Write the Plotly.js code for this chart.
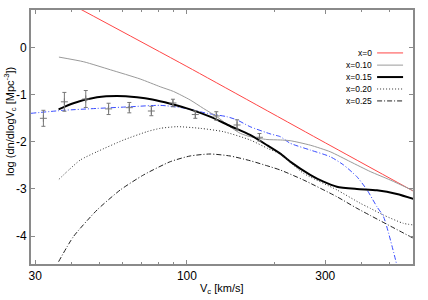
<!DOCTYPE html>
<html>
<head>
<meta charset="utf-8">
<script src="https://cdn.plot.ly/plotly-3.0.1.min.js"></script>
<style>html,body{margin:0;padding:0;background:#fff;}#chart{width:428px;height:300px;}</style>
</head>
<body>
<div id="chart"></div>
<script>
// ---- data ----
const seriesNames = ['x=0', 'x=0.10', 'x=0.15', 'x=0.20', 'x=0.25'];

const vRed = [40, 100, 300, 605];
const yRed = [0.92, -0.40, -2.02, -3.05];

const vGray = [36.2, 44.1, 54.5, 69.0, 80.9, 89.9, 102.6, 114.0, 127.1, 140.9, 152.8, 165.2, 188.8, 209.9, 227.0, 266.1, 311.9, 365.6, 428.5, 502.3, 605];
const yGray = [-0.20, -0.30, -0.47, -0.665, -0.83, -0.93, -1.11, -1.29, -1.47, -1.68, -1.82, -1.89, -1.95, -1.96, -1.975, -2.07, -2.21, -2.42, -2.63, -2.81, -3.04];

const vBlack = [36.1, 40.6, 49.0, 57.4, 67.3, 76.0, 87.7, 102.6, 120.2, 140.9, 165.2, 190.0, 209.9, 227.0, 266.1, 295.8, 328.9, 385.5, 451.9, 529.7, 605];
const yBlack = [-1.31, -1.18, -1.054, -1.026, -1.054, -1.10, -1.19, -1.31, -1.466, -1.663, -1.854, -2.08, -2.25, -2.42, -2.70, -2.846, -2.952, -3.0, -3.03, -3.107, -3.214];

const vDot = [36.2, 39.1, 42.9, 49.0, 60.5, 72.8, 80.9, 92.5, 111.2, 133.7, 165.2, 190.0, 209.9, 252.4, 328.9, 396.3, 428.5, 476.4, 557.2, 605];
const yDot = [-2.795, -2.6, -2.385, -2.209, -1.96, -1.784, -1.713, -1.678, -1.713, -1.784, -1.96, -2.14, -2.26, -2.668, -3.02, -3.305, -3.41, -3.555, -3.73, -3.765];

const vDash = [36.1, 40.6, 49.0, 58.9, 70.8, 87.7, 102.6, 120.2, 140.9, 165.2, 193.6, 209.9, 252.4, 328.9, 385.5, 605];
const yDash = [-4.545, -4.014, -3.447, -3.022, -2.704, -2.42, -2.30, -2.258, -2.30, -2.40, -2.528, -2.598, -2.81, -3.165, -3.41, -4.05];

const vBlue = [29.0, 37.6, 49.0, 63.8, 80.9, 97.3, 117.2, 137.4, 148.9, 165.2, 193.6, 209.9, 227.0, 266.1, 311.9, 346.7, 385.5, 417.8, 451.9, 476.4, 529.7];
const yBlue = [-1.394, -1.33, -1.29, -1.255, -1.225, -1.28, -1.393, -1.466, -1.535, -1.678, -1.83, -1.89, -2.03, -2.173, -2.315, -2.49, -2.74, -3.02, -3.377, -3.59, -4.62];

const vObs = [32.0, 37.8, 44.8, 53.7, 63.3, 75.4, 89.5, 106.9, 126.3, 148.9, 177.9];
const yObs = [-1.50, -1.15, -1.09, -1.30, -1.274, -1.345, -1.175, -1.42, -1.45, -1.642, -1.903];
const eObs = [0.17, 0.20, 0.18, 0.12, 0.11, 0.10, 0.08, 0.08, 0.09, 0.11, 0.08];

const xMajorTicks = [30, 100, 300];
const xMajorLabels = ['30', '100', '300'];
const xMinorTicks = [40, 50, 60, 70, 80, 90, 200, 400, 500];
const yTicks = [0, -1, -2, -3, -4];
const yTickLabels = ['0', '-1', '-2', '-3', '-4'];

// ---- styles ----
const FONT = 'Liberation Sans, Arial, sans-serif';
const styles = [
  {color: 'rgb(255,70,70)', width: 1, dash: 'solid'},
  {color: '#9a9a9a', width: 1, dash: 'solid'},
  {color: '#000000', width: 2, dash: 'solid'},
  {color: '#333333', width: 1, dash: '1px,2px'},
  {color: '#222222', width: 1, dash: '5px,2px,1px,2px'}
];
const curves = [[vRed, yRed], [vGray, yGray], [vBlack, yBlack], [vDot, yDot], [vDash, yDash]];

const traces = [];
traces.push({
  x: vBlue, y: yBlue, type: 'scatter', mode: 'lines',
  line: {color: '#3a4dff', width: 1, dash: '5px,2px,1px,2px', shape: 'spline', smoothing: 0.6},
  showlegend: false, hoverinfo: 'skip'
});
curves.forEach((c, i) => {
  traces.push({
    x: c[0], y: c[1], type: 'scatter', mode: 'lines', name: seriesNames[i],
    line: Object.assign({shape: 'spline', smoothing: 0.6}, styles[i]),
    showlegend: false
  });
});
traces.push({
  x: vObs, y: yObs, type: 'scatter', mode: 'markers',
  marker: {symbol: 'cross-thin-open', size: 5, color: '#777', line: {color: '#777', width: 1}},
  error_y: {type: 'data', array: eObs, visible: true, color: '#777', thickness: 1, width: 2},
  showlegend: false
});

// legend built from annotations + short sample lines (symbol drawn right of text)
const rowsY = [0.831, 0.783, 0.736, 0.689, 0.642];
const annotations = seriesNames.map((n, i) => ({
  text: n, xref: 'paper', yref: 'paper', x: 0.898, y: rowsY[i], xanchor: 'right', yanchor: 'middle',
  showarrow: false, font: {size: 8.5, color: '#000', family: FONT}
}));
annotations.push({
  text: 'log (dn/dlogV<sub>c</sub> [Mpc<sup>-3</sup>])', xref: 'paper', yref: 'paper',
  x: -0.055, y: 0.563, xanchor: 'center', yanchor: 'middle', textangle: -90, showarrow: false,
  font: {size: 11, color: '#000', family: FONT}
});
annotations.push({
  text: 'V<sub>c</sub> [km/s]', xref: 'paper', yref: 'paper',
  x: 0.5, y: -0.098, xanchor: 'center', yanchor: 'middle', showarrow: false,
  font: {size: 11, color: '#000', family: FONT}
});
const shapes = seriesNames.map((n, i) => ({
  type: 'line', xref: 'paper', yref: 'paper', x0: 0.906, x1: 0.974, y0: rowsY[i], y1: rowsY[i],
  line: {color: styles[i].color, width: styles[i].width, dash: styles[i].dash}
}));

const axisCommon = {
  showline: true, linecolor: '#8a8a8a', linewidth: 2, mirror: 'allticks',
  ticks: 'inside', tickcolor: '#8a8a8a', tickwidth: 1, ticklen: 4,
  showgrid: false, zeroline: false,
  tickfont: {size: 12, color: '#000', family: FONT}
};

const layout = {
  width: 428, height: 300,
  margin: {l: 31, r: 15, t: 10, b: 36},
  paper_bgcolor: '#fff', plot_bgcolor: '#fff',
  showlegend: false,
  xaxis: Object.assign({}, axisCommon, {
    type: 'log', range: [Math.log10(29), Math.log10(602)],
    tickmode: 'array', tickvals: xMajorTicks, ticktext: xMajorLabels,
    minor: {tickmode: 'array', tickvals: xMinorTicks, ticks: 'inside', ticklen: 2, tickcolor: '#8a8a8a', tickwidth: 1, showgrid: false}
  }),
  yaxis: Object.assign({}, axisCommon, {
    range: [-4.594, 0.8],
    tickmode: 'array', tickvals: yTicks, ticktext: yTickLabels
  }),
  annotations: annotations,
  shapes: shapes
};

Plotly.newPlot('chart', traces, layout, {displayModeBar: false, staticPlot: true});
</script>
</body>
</html>
